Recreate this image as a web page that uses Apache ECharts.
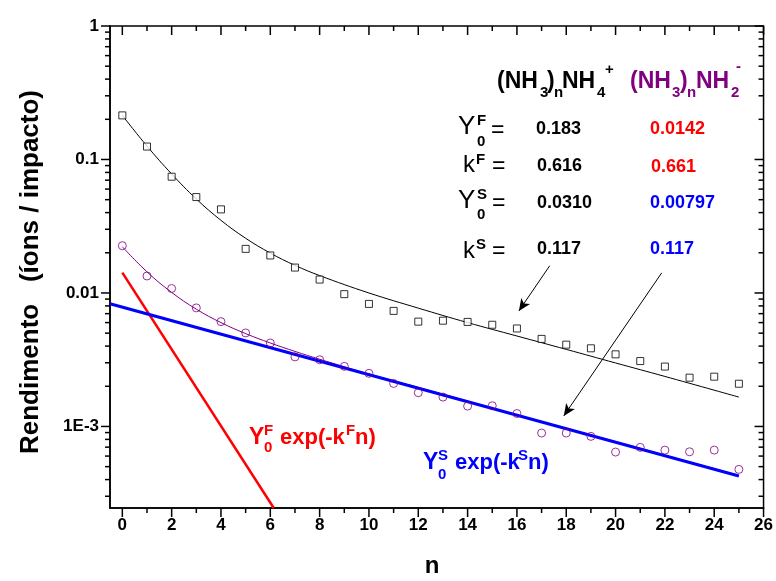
<!DOCTYPE html>
<html>
<head>
<meta charset="UTF-8">
<title>Rendimento (íons / impacto) vs n</title>
<script src="https://cdn.jsdelivr.net/npm/echarts@6.0.0/dist/echarts.min.js"></script>
<style>
  html, body { margin: 0; padding: 0; background: #fff; }
  #chart { width: 776px; height: 581px; }
</style>
</head>
<body>
<div id="chart"></div>
<script>
const FONT = '"Liberation Sans", Arial, Helvetica, sans-serif';
const RED = '#ff0000', BLUE = '#0000ff', PURPLE = '#800080';

// measured yields, n = 0..25
const nValues = [0,1,2,3,4,5,6,7,8,9,10,11,12,13,14,15,16,17,18,19,20,21,22,23,24,25];
const yieldNH4 = [0.214,0.125,0.0743,0.0523,0.0423,0.0214,0.0191,0.0155,0.0126,0.0098,0.00828,0.00734,
                  0.0061,0.0062,0.00607,0.00578,0.00542,0.00453,0.0041,0.00385,0.00347,0.00309,0.00281,0.00232,0.00236,0.00209];
const yieldNH2 = [0.0226,0.0134,0.0108,0.00773,0.0061,0.00502,0.00422,0.00332,0.00316,0.00282,0.0025,0.0021,
                  0.00179,0.00166,0.00142,0.00143,0.00125,0.000893,0.000893,0.000843,0.000643,0.000697,0.000665,0.000646,0.000665,0.000477];

// fitted curves
const fitN   = [0,1,2,3,4,5,6,7,8,10,12,14,16,18,20,22,25];
const fitNH4 = [0.214,0.126,0.0779,0.0506,0.035,0.0257,0.0199,0.0161,0.0135,0.0100,0.0077,0.0060,0.00476,0.00378,0.00299,0.00237,0.00166];
const fitNH2 = [0.0222,0.0144,0.0101,0.00756,0.0060,0.00496,0.00422,0.00365,0.00319,0.00247,0.00196,0.00155,0.00122,0.00097,0.00077,0.00061,0.00043];

// fast and slow components (straight on log axis)
const fastN = [0, 6.14],   fastY = [0.0142, 0.000245];
const slowN = [-0.5, 25],  slowY = [0.0083, 0.000425];

// arrows [n, yield] from -> to
const arrowA = [[17.33, 0.016], [16.08, 0.00734]];
const arrowB = [[21.87, 0.01415], [17.9, 0.0012]];

const X_MIN = -0.5, X_MAX = 26, Y_MIN = 0.000245, Y_MAX = 1;
const xMajor = [0,2,4,6,8,10,12,14,16,18,20,22,24,26];
const xMinor = [1,3,5,7,9,11,13,15,17,19,21,23,25];
const yMajor = [0.001, 0.01, 0.1, 1];
const yMinor = [0.0003,0.0004,0.0005,0.0006,0.0007,0.0008,0.0009,
                0.002,0.003,0.004,0.005,0.006,0.007,0.008,0.009,
                0.02,0.03,0.04,0.05,0.06,0.07,0.08,0.09,
                0.2,0.3,0.4,0.5,0.6,0.7,0.8,0.9];

const pairs = (xs, ys) => xs.map((x, i) => [x, ys[i]]);

function ticks(values, side, len) {
  const onX = side === 'bottom' || side === 'top';
  return {
    type: 'custom', silent: true, clip: false, z: 10,
    data: values.map(v => onX ? [v, side === 'bottom' ? Y_MIN : Y_MAX] : [side === 'left' ? X_MIN : X_MAX, v]),
    renderItem(params, api) {
      const p = api.coord([api.value(0), api.value(1)]);
      const d = { bottom: [0, len], top: [0, len], left: [-len, 0], right: [-len, 0] }[side];
      return {
        type: 'line',
        shape: { x1: p[0], y1: p[1], x2: p[0] + d[0], y2: p[1] + d[1] },
        style: { stroke: '#000', lineWidth: 1.5 }
      };
    }
  };
}

function t(x, y, text, size, color, bold, align, rot) {
  return {
    type: 'text', x, y, silent: true, z: 100, rotation: rot || 0,
    style: {
      text, fill: color || '#000',
      font: (bold ? 'bold ' : '') + size + 'px ' + FONT,
      align: align || 'left', verticalAlign: 'middle'
    }
  };
}

const texts = [
  // (NH3)nNH4+
  t(497, 82, '(NH', 23, '#000', true), t(540, 93, '3', 15, '#000', true), t(547, 82, ')', 23, '#000', true),
  t(554, 93, 'n', 15, '#000', true), t(562, 82, 'NH', 23, '#000', true), t(597, 93, '4', 15, '#000', true),
  t(605, 70, '+', 15, '#000', true),
  // (NH3)nNH2-
  t(630, 82, '(NH', 23, PURPLE, true), t(672, 93, '3', 15, PURPLE, true), t(680, 82, ')', 23, PURPLE, true),
  t(687, 93, 'n', 15, PURPLE, true), t(696, 82, 'NH', 23, PURPLE, true), t(731, 93, '2', 15, PURPLE, true),
  t(736, 67, '-', 15, PURPLE, true),
  // parameter labels
  t(458, 127, 'Y', 26), t(477, 121, 'F', 15, '#000', true), t(477, 142, '0', 15, '#000', true), t(491, 131, '=', 23),
  t(463, 165, 'k', 24), t(476, 160, 'F', 15, '#000', true), t(492, 167, '=', 23),
  t(458, 201, 'Y', 26), t(477, 195, 'S', 15, '#000', true), t(477, 215, '0', 15, '#000', true), t(492, 204, '=', 23),
  t(463, 251, 'k', 24), t(476, 245, 'S', 15, '#000', true), t(492, 252, '=', 23),
  // parameter values
  t(536, 129, '0.183', 18, '#000', true), t(650, 129, '0.0142', 18, RED, true),
  t(537, 166, '0.616', 18, '#000', true), t(651, 167, '0.661', 18, RED, true),
  t(537, 203, '0.0310', 18, '#000', true), t(650, 203, '0.00797', 18, BLUE, true),
  t(537, 249, '0.117', 18, '#000', true), t(650, 249, '0.117', 18, BLUE, true),
  // Y0F exp(-kFn)
  t(249, 438, 'Y', 23, RED, true), t(264, 431, 'F', 15, RED, true), t(264, 448, '0', 15, RED, true),
  t(280, 438, 'exp(-k', 22, RED, true), t(346, 431, 'F', 15, RED, true), t(355, 438, 'n)', 22, RED, true),
  // Y0S exp(-kSn)
  t(423, 463, 'Y', 23, BLUE, true), t(438, 456, 'S', 15, BLUE, true), t(438, 475, '0', 15, BLUE, true),
  t(455, 463, 'exp(-k', 22, BLUE, true), t(518, 456, 'S', 15, BLUE, true), t(528, 463, 'n)', 22, BLUE, true),
  // axis names
  t(31, 272, 'Rendimento   (íons / impacto)', 26, '#000', true, 'center', Math.PI / 2),
  t(432, 566, 'n', 24, '#000', true, 'center')
];

const chart = echarts.init(document.getElementById('chart'));
chart.setOption({
  animation: false,
  backgroundColor: '#fff',
  grid: { left: 110, right: 12, top: 26, bottom: 73, show: true, borderColor: '#000', borderWidth: 1.5 },
  xAxis: {
    type: 'value', min: X_MIN, max: X_MAX,
    splitNumber: 13, minInterval: 2, maxInterval: 2,
    axisLine: { show: true, onZero: false, lineStyle: { color: '#000', width: 1.5 } },
    axisTick: { show: false }, splitLine: { show: false },
    axisLabel: { customValues: xMajor, margin: 9, color: '#000', fontWeight: 'bold', fontSize: 17, fontFamily: FONT }
  },
  yAxis: {
    type: 'log', logBase: 10, min: Y_MIN, max: Y_MAX,
    axisLine: { show: true, onZero: false, lineStyle: { color: '#000', width: 1.5 } },
    axisTick: { show: false }, splitLine: { show: false }, minorSplitLine: { show: false },
    axisLabel: {
      showMinLabel: false, margin: 11, color: '#000', fontWeight: 'bold', fontSize: 17, fontFamily: FONT,
      formatter: v => { const e = Math.round(Math.log10(v)); return e <= -3 ? '1E' + e : String(Math.pow(10, e)); }
    }
  },
  graphic: texts,
  series: [
    ticks(xMajor, 'bottom', 9), ticks(xMinor, 'bottom', 5),
    ticks(xMajor, 'top', 9), ticks(xMinor, 'top', 5),
    ticks(yMajor, 'left', 9), ticks(yMinor, 'left', 5),
    ticks(yMajor, 'right', 9), ticks(yMinor, 'right', 5),
    {
      name: 'fit NH4', type: 'line', data: pairs(fitN, fitNH4), smooth: 0.4, showSymbol: false, z: 2,
      lineStyle: { color: '#000', width: 1 }, silent: true
    },
    {
      name: 'fit NH2', type: 'line', data: pairs(fitN, fitNH2), smooth: 0.4, showSymbol: false, z: 2,
      lineStyle: { color: PURPLE, width: 1 }, silent: true
    },
    {
      name: 'fast', type: 'line', data: pairs(fastN, fastY), showSymbol: false, z: 3,
      lineStyle: { color: RED, width: 2.5 }, silent: true
    },
    {
      name: 'slow', type: 'line', data: pairs(slowN, slowY), showSymbol: false, z: 3,
      lineStyle: { color: BLUE, width: 3 }, silent: true
    },
    {
      name: 'arrows', type: 'line', data: [], silent: true, z: 5,
      markLine: {
        silent: true, symbol: ['none', 'arrow'], symbolSize: [8, 12],
        label: { show: false },
        lineStyle: { color: '#000', width: 1, type: 'solid' },
        itemStyle: { color: '#000' },
        data: [
          [{ coord: arrowA[0] }, { coord: arrowA[1] }],
          [{ coord: arrowB[0] }, { coord: arrowB[1] }]
        ]
      }
    },
    {
      name: '(NH3)nNH4+', type: 'scatter', data: pairs(nValues, yieldNH4), symbol: 'rect', symbolSize: 7, z: 4,
      itemStyle: { color: '#fff', borderColor: '#000', borderWidth: 1 }
    },
    {
      name: '(NH3)nNH2-', type: 'scatter', data: pairs(nValues, yieldNH2), symbol: 'circle', symbolSize: 8, z: 4,
      itemStyle: { color: 'rgba(255,255,255,0)', borderColor: PURPLE, borderWidth: 1 }
    }
  ]
});
</script>
</body>
</html>
